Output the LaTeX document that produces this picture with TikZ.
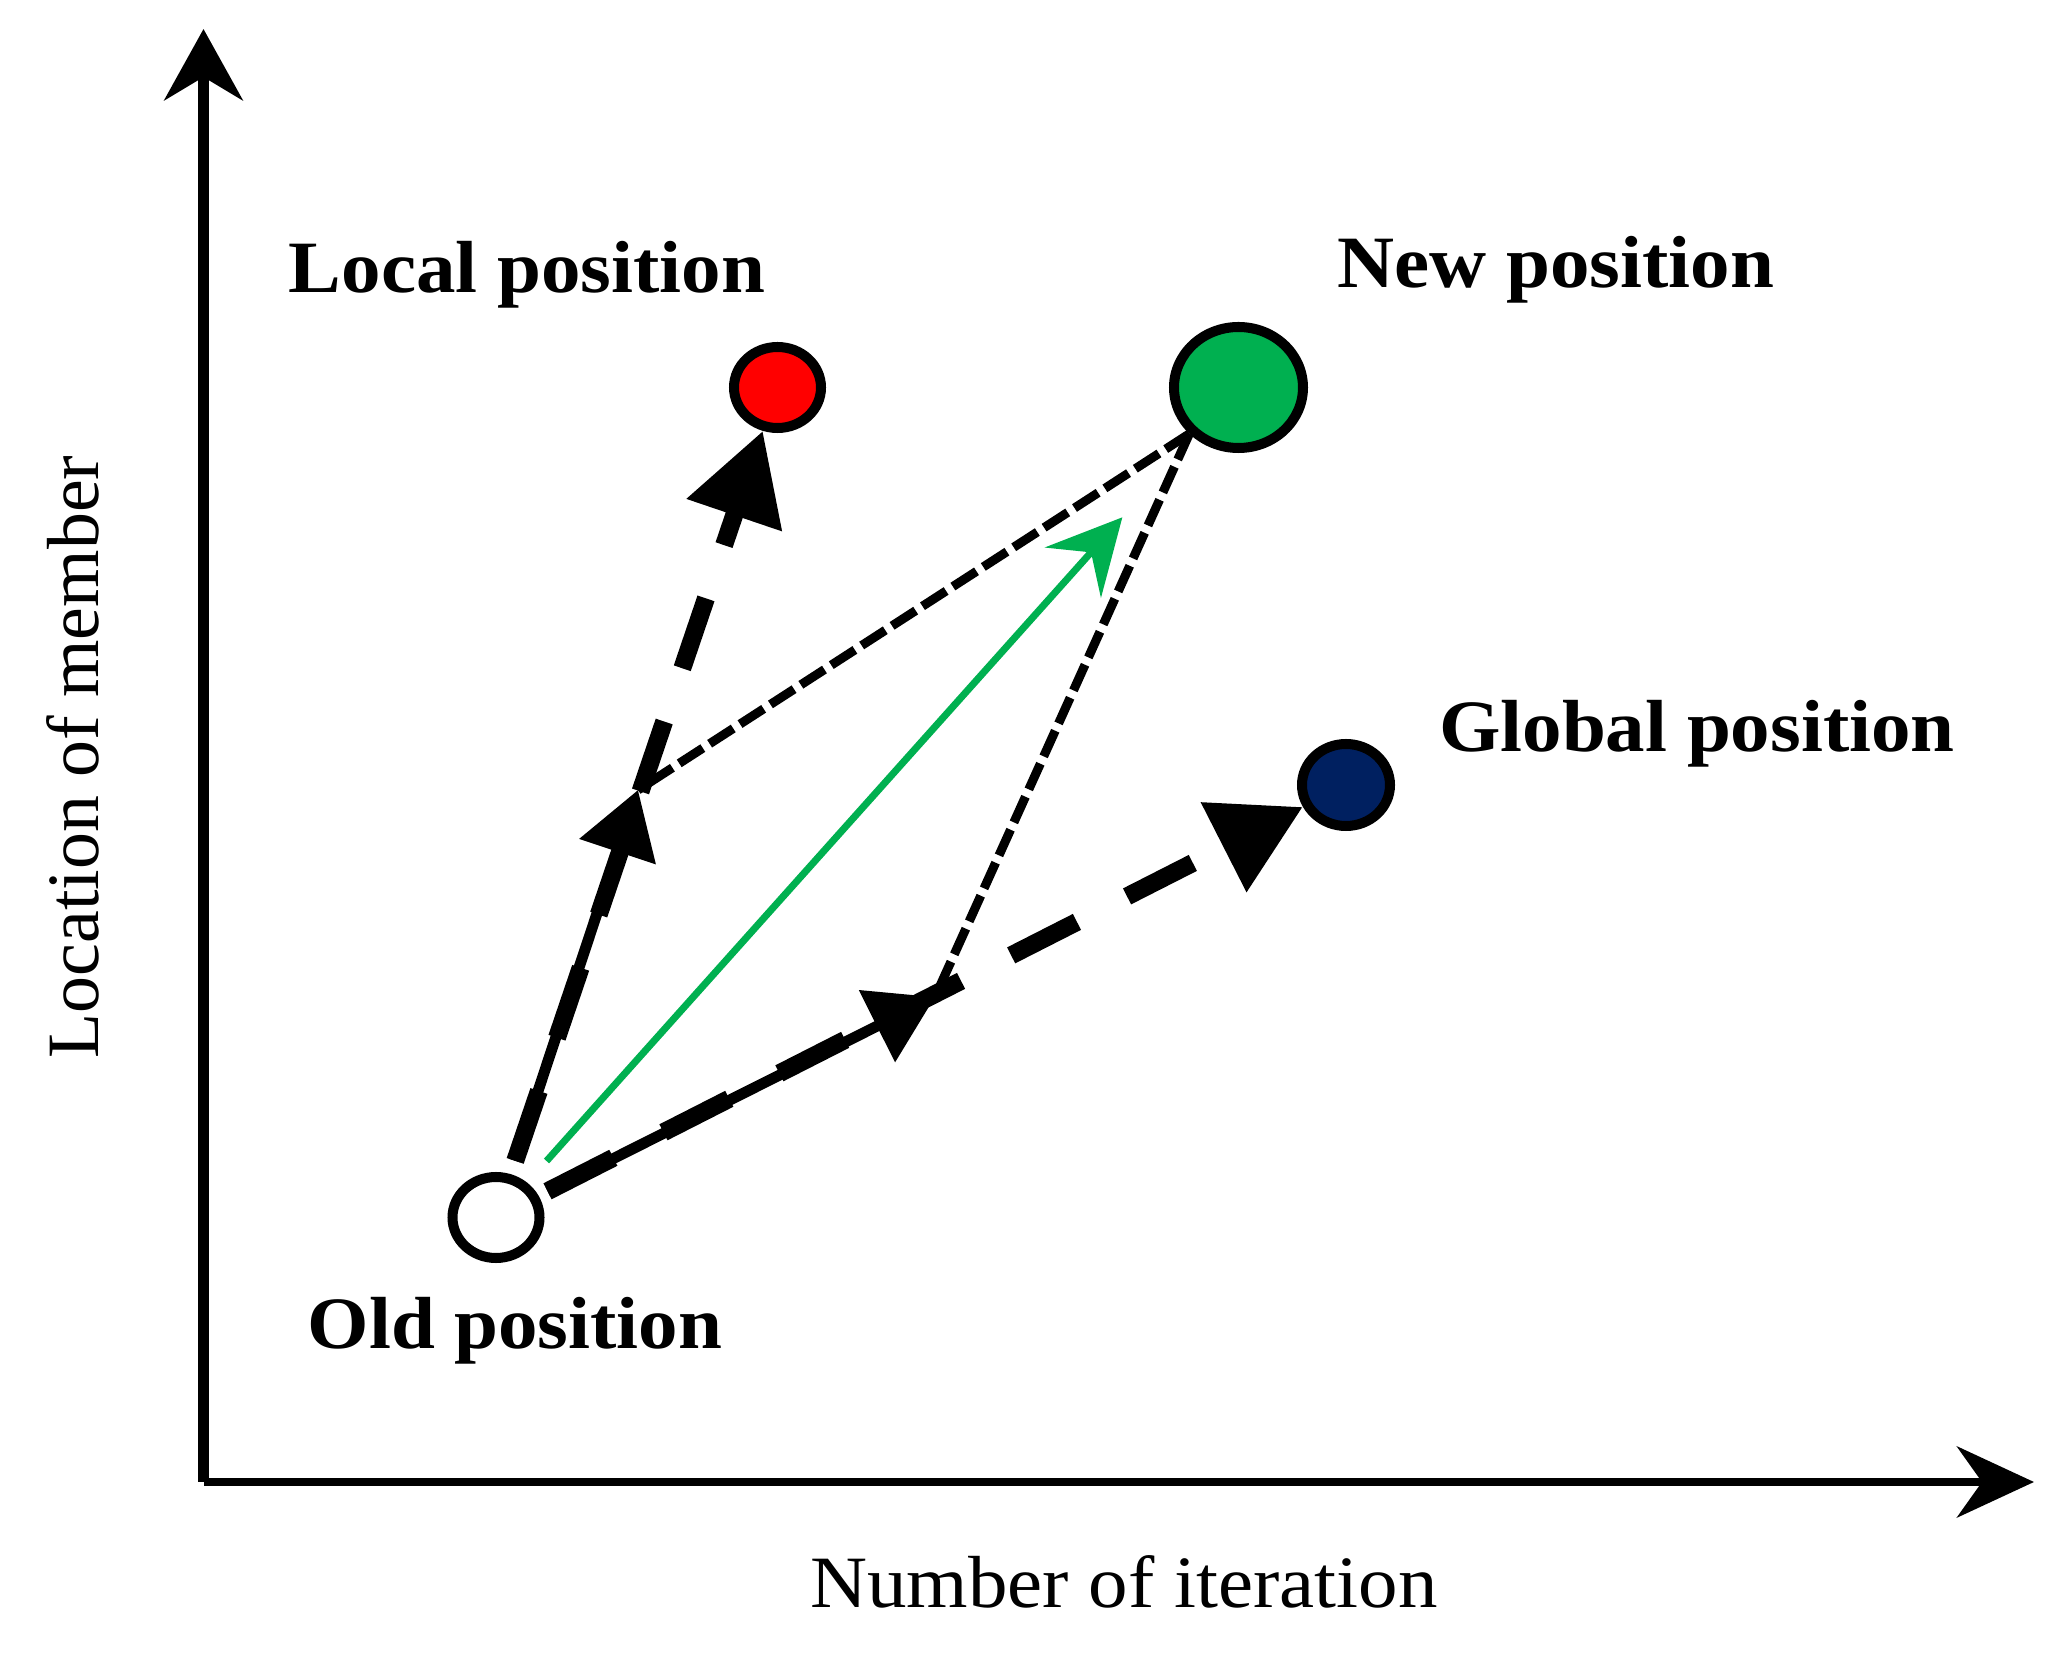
\documentclass[tikz,border=0pt]{standalone}
\usepackage{fontspec}
\setmainfont{Liberation Serif}
\newfontfamily\widefont[FakeStretch=1.07]{Liberation Serif}
\usepackage{xcolor}
\usepackage{tikz}
\usetikzlibrary{arrows.meta,shapes}

\definecolor{newgreen}{HTML}{00B050}
\definecolor{globalblue}{HTML}{002060}

\tikzset{
 dot/.style={ellipse, draw, line width=2.85pt, inner sep=0pt, minimum width=0.87cm, minimum height=0.81cm},
 lbl/.style={font=\widefont\bfseries\fontsize{21}{25}\selectfont, anchor=base},
 bigdash/.style={line width=5.1pt, dash pattern=on 21pt off 16pt, -{Triangle[length=8.9mm,width=9.6mm]}},
 part/.style={line width=3.1pt, -{Triangle[length=6.5mm,width=7.8mm]}},
 thindash/.style={line width=2.56pt, dash pattern=on 8pt off 2.3pt},
}

\begin{document}
\begin{tikzpicture}

\useasboundingbox (0,0) rectangle (20.63,16.59);

\coordinate (origin) at (2.035,1.77);
\coordinate (ytop) at (2.035,16.30);
\coordinate (xend) at (20.34,1.77);

\draw[line width=3.4pt, -{Stealth[length=7.1mm,width=7.8mm,inset=2.3mm]}] (origin) -- (ytop);
\draw[line width=2.56pt, -{Stealth[length=7.7mm,width=7.1mm,inset=2.5mm]}] (origin) -- (xend);

  \node[dot, fill=white] (old) at (4.96,4.415) {};
  \node[dot, fill=red] (local) at (7.775,12.715) {};
  \node[dot, fill=newgreen, minimum width=1.29cm, minimum height=1.21cm] (new) at (12.385,12.715) {};
  \node[dot, fill=globalblue, minimum width=0.88cm, minimum height=0.82cm] (global) at (13.46,8.74) {};

\coordinate (lmid) at (6.38,8.69);
\coordinate (gmid) at (9.35,6.62);

\draw[part, shorten <=0.14cm] (old) -- (lmid);
\draw[part, shorten <=0.1cm] (old) -- (gmid);
\draw[bigdash, shorten <=0.14cm] (old) -- (local);
\draw[bigdash, shorten <=0.1cm] (old) -- (global);

\draw[thindash] (new.south west) -- (lmid);
\draw[thindash] (new.south west) -- (gmid);

\draw[newgreen, line width=2pt, shorten <=0.29cm, shorten >=1.07cm, -{Stealth[length=7.4mm,width=7.5mm,inset=2.7mm]}] (old) -- (new);

\node[lbl] (lbllocal) at (5.27,13.66) {Local position};
\node[lbl] (lblnew) at (15.56,13.71) {New position};
\node[lbl] (lblglobal) at (16.97,9.07) {Global position};
\node[lbl] (lblold) at (5.15,3.10) {Old position};

\node[font=\widefont\fontsize{21}{25}\selectfont, anchor=base] (xlabel) at (11.24,0.52) {Number of iteration};
\node[font=\fontsize{21}{25}\selectfont, rotate=90] (ylabel) at (0.73,9.02) {Location of member};

	\end{tikzpicture}
\end{document}
